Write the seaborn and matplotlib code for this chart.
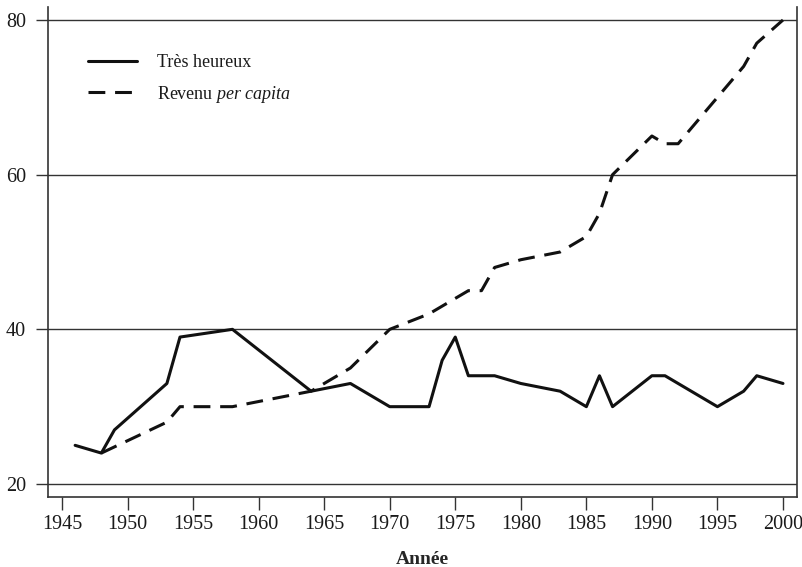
import numpy as np
import pandas as pd
import matplotlib
matplotlib.use("Agg")
import matplotlib.pyplot as plt
import seaborn as sns

# data
annees_heureux = [1946, 1948, 1949, 1953, 1954, 1958, 1964, 1967, 1970, 1973, 1974, 1975,
                  1976, 1977, 1978, 1980, 1983, 1985, 1986, 1987, 1990, 1991, 1995, 1997,
                  1998, 2000]
tres_heureux = [25, 24, 27, 33, 39, 40, 32, 33, 30, 30, 36, 39,
                34, 34, 34, 33, 32, 30, 34, 30, 34, 34, 30, 32,
                34, 33]

annees_revenu = [1948, 1953, 1954, 1958, 1964, 1967, 1970, 1973, 1975, 1976, 1977, 1978,
                 1980, 1983, 1985, 1986, 1987, 1990, 1991, 1992, 1995, 1997, 1998, 2000]
revenu = [24, 28, 30, 30, 32, 35, 40, 42, 44, 45, 45, 48,
          49, 50, 52, 55, 60, 65, 64, 64, 70, 74, 77, 80]

lab_heureux = "Très heureux"
lab_revenu = "Revenu $\\it{per\\ capita}$"

df = pd.concat([
    pd.DataFrame({"Année": annees_heureux, "val": tres_heureux, "serie": lab_heureux}),
    pd.DataFrame({"Année": annees_revenu, "val": revenu, "serie": lab_revenu}),
])

sns.set_theme(style="white")
plt.rcParams["font.family"] = ["Liberation Serif", "DejaVu Serif"]
plt.rcParams["mathtext.fontset"] = "custom"
plt.rcParams["mathtext.rm"] = "Liberation Serif"
plt.rcParams["mathtext.it"] = "Liberation Serif:italic"
plt.rcParams["text.color"] = "#1a1a1a"
plt.rcParams["xtick.labelcolor"] = "#1a1a1a"
plt.rcParams["ytick.labelcolor"] = "#1a1a1a"

fig = plt.figure(figsize=(8.03, 5.67), dpi=100)
ax = fig.add_axes([48/803, 70/567, 749/803, 490/567])

sns.lineplot(data=df, x="Année", y="val", style="serie", color="#111111",
             dashes={lab_heureux: "", lab_revenu: (5.5, 3.2)}, linewidth=2.2,
             sort=False, ax=ax)

ax.set_xlim(1943.93, 2001.07)
ax.set_ylim(18.32, 81.68)
ax.set_xticks(range(1945, 2001, 5))
ax.set_yticks([20, 40, 60, 80])
ax.grid(axis="y", color="#333333", linewidth=1.0)
ax.tick_params(axis="y", direction="out", length=9, width=1.0, color="#333333",
               labelsize=14.5, pad=7, left=True)
ax.tick_params(axis="x", direction="out", length=9, width=1.0, color="#333333",
               labelsize=14.5, pad=4, bottom=True)
for s in ["left", "right", "bottom"]:
    ax.spines[s].set_color("#333333")
    ax.spines[s].set_linewidth(1.2)
ax.spines["top"].set_visible(False)

ax.set_ylabel("")
ax.set_xlabel("Année", fontsize=14, fontweight="bold", labelpad=12)

ax.legend(loc="upper left", bbox_to_anchor=(0.0534, 0.904), frameon=False,
          fontsize=13, handlelength=2.7, handletextpad=1.1, borderpad=0,
          borderaxespad=0, labelspacing=0.7, title=None)

fig.savefig("out.png", dpi=100)
